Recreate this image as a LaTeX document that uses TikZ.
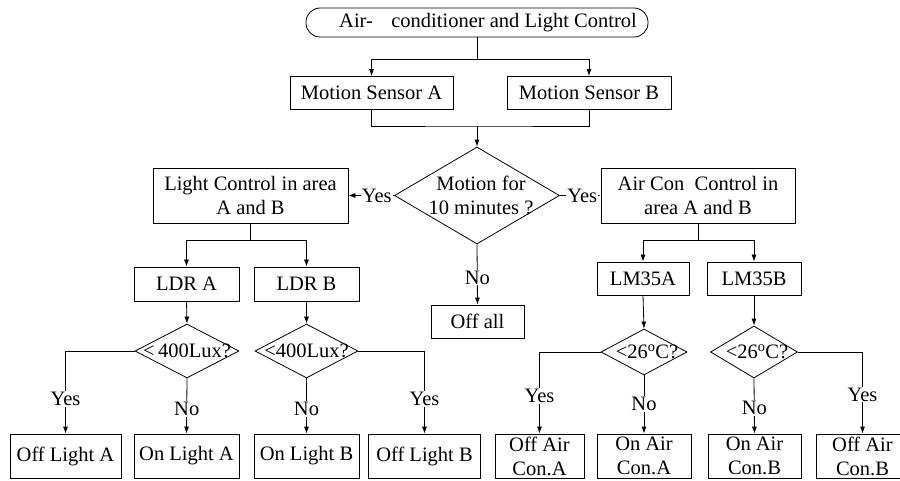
\documentclass[tikz,border=0pt]{standalone}
\usepackage{fontspec}
\setmainfont{Liberation Serif}
\usetikzlibrary{arrows.meta, shapes.geometric, positioning, calc}

\begin{document}
\begin{tikzpicture}[x=1pt, y=-1pt, line width=0.8pt,
        font=\fontsize{20.5}{24}\selectfont,
        >={Latex[length=7pt, width=5pt]},
        box/.style args={#1x#2}{draw, rectangle, inner sep=0pt, align=center, minimum width=#1, minimum height=#2},
        decision/.style args={#1x#2}{draw, diamond, inner sep=0pt, minimum width=#1, minimum height=#2},
        lbl/.style={fill=white, inner sep=1pt}]

        \clip (0,0) rectangle (900,481);

        % start and the two motion sensors
        \node[draw, rounded corners=14pt, minimum width=342, minimum height=29, inner sep=0pt] (title) at (477,22.5) {\hspace*{22pt}Air-\hspace{0.9em}conditioner and Light Control};
        \node[box=163x33] (msa) at (371.5,93) {Motion Sensor A};
        \node[box=164x33] (msb) at (589,93) {Motion Sensor B};

        \coordinate (split) at (477,59);
        \draw (title.south) -- (split);
        \draw[->] (split) -| (msa.north);
        \draw[->] (split) -| (msb.north);

        \node[decision=165x97, label={[align=center, xshift=4pt]center:{Motion for\\10 minutes ?}}] (motion) at (477,195.5) {};
        \coordinate (merge) at (477,126);
        \draw (msa.south) |- (merge) -| (msb.south);
        \draw[->] (merge) -- (motion.north);

        \node[box=195x55] (light) at (250.5,195.5) {Light Control in area\\A and B};
        \node[box=194x55] (aircon) at (698,195.5) {Air Con\ \ Control in\\area A and B};
        \node[box=93x33] (offall) at (477.5,321.5) {Off all};

        \draw[->] (motion.west) -- node[lbl, pos=0.38] {Yes} (light.east);
        \draw[->] (motion.east) -- node[lbl, pos=0.55] {Yes} (aircon.west);
        \draw[->] (motion.south) -- node[lbl, pos=0.55] {No} (offall.north);

        % light branch
        \node[box=105x34] (ldra) at (186.5,284) {LDR A};
        \node[box=105x34] (ldrb) at (306.5,284) {LDR B};
        \draw (light.south) -- ++(0,17) coordinate (lsplit);
        \draw[->] (lsplit) -| (ldra.north);
        \draw[->] (lsplit) -| (ldrb.north);

        \node[decision=104x54, label={center:{<\,400Lux?}}] (luxa) at (187,351) {};
        \node[decision=103x54, label={center:{<400Lux?}}] (luxb) at (306.5,351) {};
        \draw[->] (ldra.south) -- (luxa.north);
        \draw[->] (ldrb.south) -- (luxb.north);

        \node[box=111x44] (offla) at (65.5,456) {Off Light A};
        \node[box=105x44] (onla) at (186.5,456) {On Light A};
        \node[box=105x44] (onlb) at (306.5,456) {On Light B};
        \node[box=112x44] (offlb) at (424.5,456) {Off Light B};

        \draw[->] (luxa.west) -| node[lbl, pos=0.79] {Yes} (offla.north);
        \draw[->] (luxa.south) -- node[lbl, pos=0.55] {No} (onla.north);
        \draw[->] (luxb.south) -- node[lbl, pos=0.55] {No} (onlb.north);
        \draw[->] (luxb.east) -| node[lbl, pos=0.79] {Yes} (offlb.north);

        % air con branch
        \node[box=92x33] (lma) at (643,278.5) {LM35A};
        \node[box=94x33] (lmb) at (754,278.5) {LM35B};
        \draw (aircon.south) -- ++(0,17) coordinate (asplit);
        \draw[->] (asplit) -| (lma.north);
        \draw[->] (asplit) -| (lmb.north);

        \node[decision=86x46, label={[xshift=3pt]center:{<26\textsuperscript{o}C?}}] (tempa) at (644,352) {};
        \node[decision=87x52, label={[xshift=3pt]center:{<26\textsuperscript{o}C?}}] (tempb) at (754,352) {};
        \draw[->] (lma.south) -- (tempa.north);
        \draw[->] (lmb.south) -- (tempb.north);

        \node[box=89x44] (offaca) at (539.5,456) {Off Air\\Con.A};
        \node[box=94x44] (onaca) at (644,456) {On Air\\Con.A};
        \node[box=93x44] (onacb) at (754.5,456) {On Air\\Con.B};
        \node[box=93x44] (offacb) at (862.5,456) {Off Air\\Con.B};

        \draw[->] (tempa.west) -| node[lbl, pos=0.77] {Yes} (offaca.north);
        \draw[->] (tempa.south) -- node[lbl, pos=0.49] {No} (onaca.north);
        \draw[->] (tempb.south) -- node[lbl, pos=0.54] {No} (onacb.north);
        \draw[->] (tempb.east) -| node[lbl, pos=0.76] {Yes} (offacb.north);

\end{tikzpicture}
\end{document}
